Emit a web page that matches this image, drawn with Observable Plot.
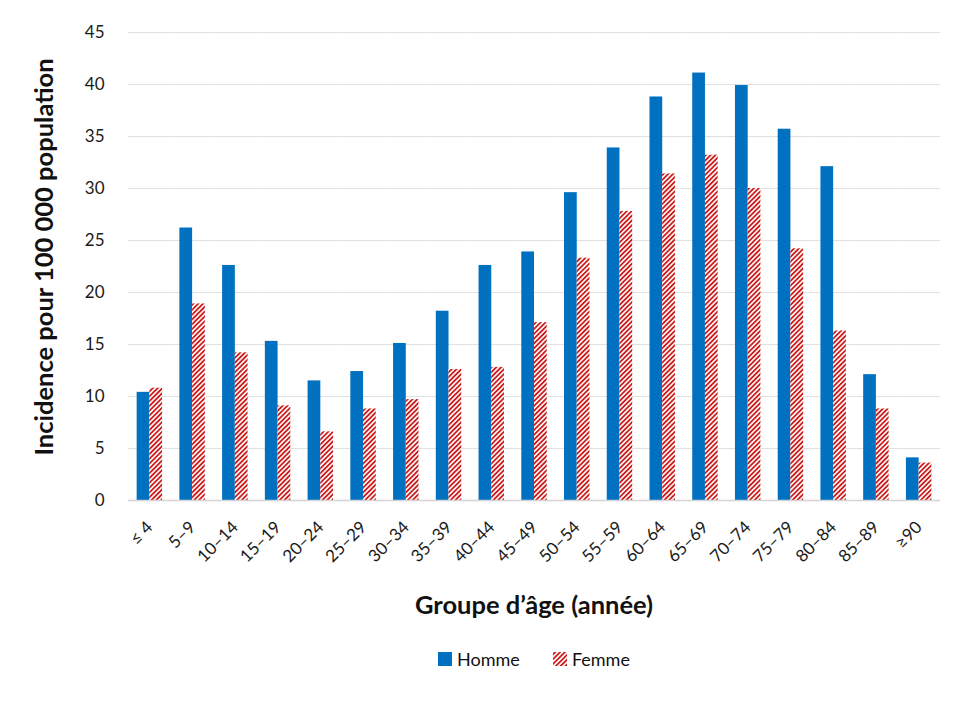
<!DOCTYPE html>
<html><head><meta charset="utf-8">
<script src="https://cdn.jsdelivr.net/npm/d3@7"></script>
<script src="https://cdn.jsdelivr.net/npm/@observablehq/plot@0.6"></script>
<style>
body{margin:0;background:#fff;font-family:Lato,"Noto Sans",sans-serif;}
#legend{position:absolute;top:648px;left:128px;width:812px;display:flex;justify-content:center;font-size:18px;color:#111;}
#legend .item{display:flex;align-items:center;}
#legend svg{margin-right:5px;}
#chart svg text{font-size:17px;}
</style></head><body>
<div id="chart"></div>
<div id="legend">
  <div class="item" style="margin-right:33px"><svg width="14" height="14"><rect width="14" height="14" fill="#0070c0"/></svg>Homme</div>
  <div class="item"><svg width="14" height="14"><defs><pattern id="hatchL" patternUnits="userSpaceOnUse" width="3.4" height="3.4" patternTransform="rotate(45)"><rect width="3.4" height="3.4" fill="#fff"/><line x1="1.7" y1="0" x2="1.7" y2="3.4" stroke="#cc1a1a" stroke-width="1.8"/></pattern></defs><rect width="14" height="14" fill="url(#hatchL)"/></svg>Femme</div>
</div>
<script>
const ageGroups = ["≤ 4","5–9","10–14","15–19","20–24","25–29","30–34","35–39","40–44","45–49","50–54","55–59","60–64","65–69","70–74","75–79","80–84","85–89","≥90"];
const homme = [10.4,26.2,22.6,15.3,11.5,12.4,15.1,18.2,22.6,23.9,29.6,33.9,38.8,41.1,39.9,35.7,32.1,12.1,4.1];
const femme = [10.8,18.9,14.2,9.1,6.6,8.8,9.7,12.6,12.8,17.1,23.3,27.8,31.4,33.2,30.0,24.2,16.3,8.8,3.6];
const sexes = ["Homme","Femme"];
const sexColors = ["#0070c0","url(#hatch)"];
const yTicks = [0,5,10,15,20,25,30,35,40,45];
const xTitle = "Groupe d’âge (année)";
const yTitle = "Incidence pour 100 000 population";

const data = ageGroups.flatMap((a,i)=>[
  {age:a, sexe:"Homme", v:homme[i]},
  {age:a, sexe:"Femme", v:femme[i]}
]);

const plot = Plot.plot({
  width:980, height:628,
  marginTop:32, marginLeft:128, marginRight:40, marginBottom:128,
  style:{fontFamily:"Lato, 'Noto Sans', sans-serif", fontSize:"17px", color:"#1a1a1a", background:"#fff"},
  fx:{domain:ageGroups, padding:0, round:false, label:null, axis:"bottom", tickRotate:-45, tickSize:0, tickPadding:24},
  x:{domain:sexes, axis:null, round:false, paddingInner:0, paddingOuter:0.68},
  y:{domain:[0,45], ticks:yTicks, label:null, tickSize:0, tickPadding:24},
  color:{domain:sexes, range:sexColors},
  marks:[
    Plot.ruleY(yTicks.filter(d=>d>0),{stroke:"#e0e0e0", strokeWidth:1}),
    Plot.barY(data,{fx:"age", x:"sexe", y:"v", fill:"sexe"}),
    Plot.ruleY([0],{stroke:"#d4d4d4", strokeWidth:1.5})
  ]
});

const svg = plot.tagName.toLowerCase()==="svg" ? plot : plot.querySelector("svg");
const defs = d3.select(svg).insert("defs",":first-child");
const pat = defs.append("pattern").attr("id","hatch").attr("patternUnits","userSpaceOnUse")
  .attr("width",3.4).attr("height",3.4).attr("patternTransform","rotate(45)");
pat.append("rect").attr("width",3.4).attr("height",3.4).attr("fill","#fff");
pat.append("line").attr("x1",1.7).attr("x2",1.7).attr("y1",0).attr("y2",3.4).attr("stroke","#cc1a1a").attr("stroke-width",1.8);

const sel = d3.select(svg);
sel.selectAll("g[aria-label$='tick label'], g[aria-label$='tick label'] text")
  .style("font-size","17px").style("font-family","Lato, 'Noto Sans', sans-serif");
sel.append("text").attr("x",(128+940)/2).attr("y",607).attr("text-anchor","middle").attr("dominant-baseline","middle")
  .style("font-weight","bold").style("font-size","25.5px").attr("fill","#111").text(xTitle);
sel.append("text").attr("transform","translate(46,257) rotate(-90)").attr("text-anchor","middle").attr("dominant-baseline","middle")
  .style("font-weight","bold").style("font-size","25.5px").attr("fill","#111").text(yTitle);

document.getElementById("chart").appendChild(plot);
</script>
</body></html>
